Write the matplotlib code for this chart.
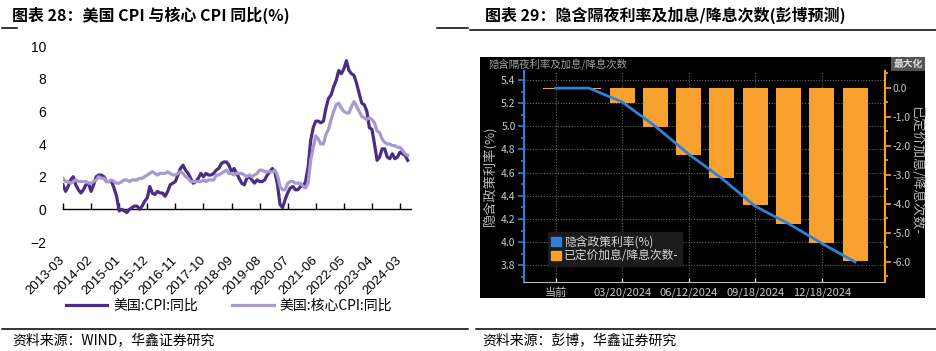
import matplotlib
matplotlib.use('Agg')
import matplotlib.pyplot as plt
import pandas as pd
from matplotlib.lines import Line2D
from matplotlib.patches import Patch, Rectangle
from matplotlib.ticker import MultipleLocator, FormatStrFormatter

plt.rcParams['font.family'] = ['Noto Sans CJK SC', 'DejaVu Sans']

# ---- left chart data: US CPI / core CPI YoY (%), monthly from 2013-03
cpi = [1.5, 1.1, 1.4, 1.8, 2.0, 1.5, 1.2, 1.0, 1.2, 1.5,
       1.6, 1.1, 1.5, 2.0, 2.1, 2.1, 2.0, 1.7, 1.7, 1.7, 1.3, 0.8,
       -0.1, 0.0, -0.1, -0.2, 0.0, 0.1, 0.2, 0.2, 0.0, 0.2, 0.5, 0.7,
       1.4, 1.0, 0.9, 1.1, 1.0, 1.0, 0.8, 1.1, 1.5, 1.6, 1.7, 2.1,
       2.5, 2.7, 2.4, 2.2, 1.9, 1.6, 1.7, 1.9, 2.2, 2.0, 2.2, 2.1,
       2.1, 2.2, 2.4, 2.5, 2.8, 2.9, 2.9, 2.7, 2.3, 2.5, 2.2, 1.9,
       1.6, 1.5, 1.9, 2.0, 1.8, 1.6, 1.8, 1.7, 1.7, 1.8, 2.1, 2.3,
       2.5, 2.3, 1.5, 0.3, 0.1, 0.6, 1.0, 1.3, 1.4, 1.2, 1.2, 1.4,
       1.4, 1.7, 2.6, 4.2, 5.0, 5.4, 5.4, 5.3, 5.4, 6.2, 6.8, 7.0,
       7.5, 7.9, 8.5, 8.3, 8.6, 9.1, 8.5, 8.3, 8.2, 7.7, 7.1, 6.5,
       6.4, 6.0, 5.0, 4.9, 4.0, 3.0, 3.2, 3.7, 3.7, 3.2, 3.1, 3.4,
       3.1, 3.2, 3.5, 3.4, 3.3, 3.0]
core = [1.9, 1.7, 1.7, 1.6, 1.7, 1.8, 1.7, 1.7, 1.7, 1.7,
        1.6, 1.6, 1.7, 1.8, 2.0, 1.9, 1.9, 1.7, 1.7, 1.8, 1.7, 1.6,
        1.6, 1.7, 1.8, 1.8, 1.7, 1.8, 1.8, 1.8, 1.9, 1.9, 2.0, 2.1,
        2.2, 2.3, 2.2, 2.1, 2.2, 2.2, 2.2, 2.3, 2.2, 2.1, 2.1, 2.2,
        2.3, 2.2, 2.0, 1.9, 1.7, 1.7, 1.7, 1.7, 1.7, 1.8, 1.7, 1.8,
        1.8, 1.8, 2.1, 2.1, 2.2, 2.3, 2.4, 2.2, 2.2, 2.1, 2.2, 2.2,
        2.2, 2.1, 2.0, 2.1, 2.0, 2.1, 2.2, 2.4, 2.4, 2.3, 2.3, 2.3,
        2.3, 2.4, 2.1, 1.4, 1.2, 1.2, 1.6, 1.7, 1.7, 1.6, 1.6, 1.6,
        1.4, 1.3, 1.6, 3.0, 3.8, 4.5, 4.3, 4.0, 4.0, 4.6, 4.9, 5.5,
        6.0, 6.4, 6.5, 6.2, 6.0, 5.9, 5.9, 6.3, 6.6, 6.3, 6.0, 5.7,
        5.6, 5.5, 5.6, 5.5, 5.3, 4.8, 4.7, 4.3, 4.1, 4.0, 4.0, 3.9,
        3.9, 3.8, 3.8, 3.6, 3.4, 3.3]
months = pd.period_range('2013-03', periods=len(cpi), freq='M').strftime('%Y-%m')

# ---- right chart data: meetings, priced hikes/cuts, implied rate
meetings = ['当前', '01/31/2024', '03/20/2024', '05/01/2024', '06/12/2024',
            '07/31/2024', '09/18/2024', '11/07/2024', '12/18/2024', '01/29/2025']
hikes = [-0.03, -0.03, -0.51, -1.34, -2.31, -3.13, -4.06, -4.69, -5.37, -5.99]
rate = [5.33, 5.33, 5.21, 5.00, 4.76, 4.55, 4.31, 4.16, 3.99, 3.83]

W, H = 936, 351
def fx(px):
  return px / W
def fy(py):
  return 1 - py / H

fig = plt.figure(figsize=(W / 100, H / 100), dpi=100)
latin = ['Liberation Sans', 'DejaVu Sans']

# titles, rules, sources
fig.text(fx(12), fy(15), '图表 28：美国 CPI 与核心 CPI 同比(%)', fontsize=11.5,
         fontweight='bold', va='center')
fig.text(fx(485), fy(15), '图表 29：隐含隔夜利率及加息/降息次数(彭博预测)', fontsize=11.5,
         fontweight='bold', va='center')
for x0, x1, y in [(2, 17, 28), (437, 468, 28), (470, 936, 30), (2, 468, 329), (476, 936, 329)]:
  fig.add_artist(Line2D([fx(x0), fx(x1)], [fy(y), fy(y)], color='black', lw=1.1))
fig.text(fx(12), fy(340), '资料来源：WIND，华鑫证券研究', fontsize=10, va='center')
fig.text(fx(482), fy(340), '资料来源：彭博，华鑫证券研究', fontsize=10, va='center')

# ---- left chart
ax = fig.add_axes([fx(63), fy(242), 348 / W, 196 / H])
x = range(len(cpi))
l1, = ax.plot(x, cpi, color='#4B2D84', lw=2.3, label='美国:CPI:同比')
l2, = ax.plot(x, core, color='#A899CE', lw=2.3, label='美国:核心CPI:同比')
ax.set_xlim(0, 136.3)
ax.set_ylim(-2, 10)
ax.set_yticks(range(-2, 11, 2))
ax.tick_params(axis='y', length=0, pad=12, labelsize=10)
tick_idx = list(range(0, len(cpi), 11))
ax.set_xticks(tick_idx, [months[i] for i in tick_idx], rotation=45, ha='right',
              va='center', rotation_mode='anchor')
ax.tick_params(axis='x', length=0, pad=12, labelsize=9.5)
for lab in ax.get_xticklabels() + ax.get_yticklabels():
  lab.set_fontfamily(latin)
for s in ax.spines.values():
  s.set_visible(False)

zero = ax.secondary_xaxis(0, transform=ax.transData)
zero.set_xticks(tick_idx, [''] * len(tick_idx))
zero.tick_params(direction='in', length=4, width=1, color='black')
zero.spines['bottom'].set_linewidth(1)

ax.legend(handles=[l1, l2], loc='center', bbox_to_anchor=(fx(229), fy(306)),
          bbox_transform=fig.transFigure, ncol=2, frameon=False, fontsize=10,
          handlelength=3.0, handletextpad=0.4, columnspacing=2.5)

# ---- right chart (terminal style)
fig.add_artist(Rectangle((fx(480), fy(298)), 445 / W, 241 / H, transform=fig.transFigure,
                         facecolor='black', edgecolor='none', zorder=-1))
fig.text(fx(488), fy(64), '隐含隔夜利率及加息/降息次数', fontsize=7.5, color='#a0a0a0', va='center')
fig.text(fx(908), fy(64), '最大化', fontsize=7, color='#e0e0e0', ha='center', va='center',
         fontweight='bold', bbox=dict(facecolor='#555555', edgecolor='none', pad=1.5))

blue = '#2F80D8'
orange = '#F9A12E'
grey = '#c8c8c8'

axr = fig.add_axes([fx(524), fy(281.7), 361 / W, 211 / H])
axr.set_facecolor('black')
axr.set_xlim(-0.95, 9.9)
axr.set_ylim(3.659, 5.48)
ax2 = axr.twinx()
ax2.set_ylim((3.659 - 5.333) / 0.25, (5.48 - 5.333) / 0.25)

pos = list(range(len(meetings)))
ax2.bar(pos, hikes, width=0.75, color=orange, linewidth=0, zorder=2)
ax2.plot(pos, rate, color=blue, lw=2, zorder=3, transform=axr.transData)

axr.set_xticks(pos[::2], [m for m in meetings[::2]])
axr.grid(True, color='#666666', ls=(0, (1, 1.5)), lw=0.8)
axr.set_axisbelow(True)

axr.yaxis.set_major_locator(MultipleLocator(0.2))
axr.yaxis.set_minor_locator(MultipleLocator(0.1))
axr.yaxis.set_major_formatter(FormatStrFormatter('%.1f'))
axr.tick_params(axis='y', which='both', color=blue, labelcolor=grey, labelsize=7.5,
                width=1.2, pad=2)
axr.tick_params(axis='y', which='major', length=4)
axr.tick_params(axis='y', which='minor', length=2)
axr.tick_params(axis='x', direction='in', length=3, color='white', labelcolor=grey,
                labelsize=8, pad=4)

ax2.yaxis.set_major_locator(MultipleLocator(1.0))
ax2.yaxis.set_minor_locator(MultipleLocator(0.5))
ax2.yaxis.set_major_formatter(FormatStrFormatter('%.1f'))
ax2.tick_params(axis='y', which='both', color=orange, labelcolor=grey, labelsize=7.5,
                width=1.2, pad=1.5)
ax2.tick_params(axis='y', which='major', length=4)
ax2.tick_params(axis='y', which='minor', length=2)

for s in ['top', 'right']:
  axr.spines[s].set_visible(False)
axr.spines['left'].set_color(blue)
axr.spines['left'].set_linewidth(1.5)
axr.spines['bottom'].set_color('#bbbbbb')
for s in ['top', 'left', 'bottom']:
  ax2.spines[s].set_visible(False)
ax2.spines['right'].set_color(orange)
ax2.spines['right'].set_linewidth(1.5)

fig.text(fx(489), fy(176), '隐含政策利率(%)', rotation=90, fontsize=9.5, color='#b8b8b8',
         ha='center', va='center')
fig.text(fx(917), fy(170), '已定价加息/降息次数-', rotation=270, fontsize=9.5, color='#b8b8b8',
         ha='center', va='center')

leg = ax2.legend(handles=[Patch(color=blue), Patch(color=orange)],
                 labels=['隐含政策利率(%)', '已定价加息/降息次数-'],
                 loc='upper left', bbox_to_anchor=(0.066, 0.237), fontsize=8.5,
                 labelcolor='#d8d8d8', facecolor='#1b1b1b', edgecolor='#1b1b1b',
                 framealpha=1, fancybox=False, handlelength=0.8, handleheight=0.8,
                 handletextpad=0.3, borderpad=0.3, labelspacing=0.1, borderaxespad=0)

fig.savefig('out.png', dpi=100)
